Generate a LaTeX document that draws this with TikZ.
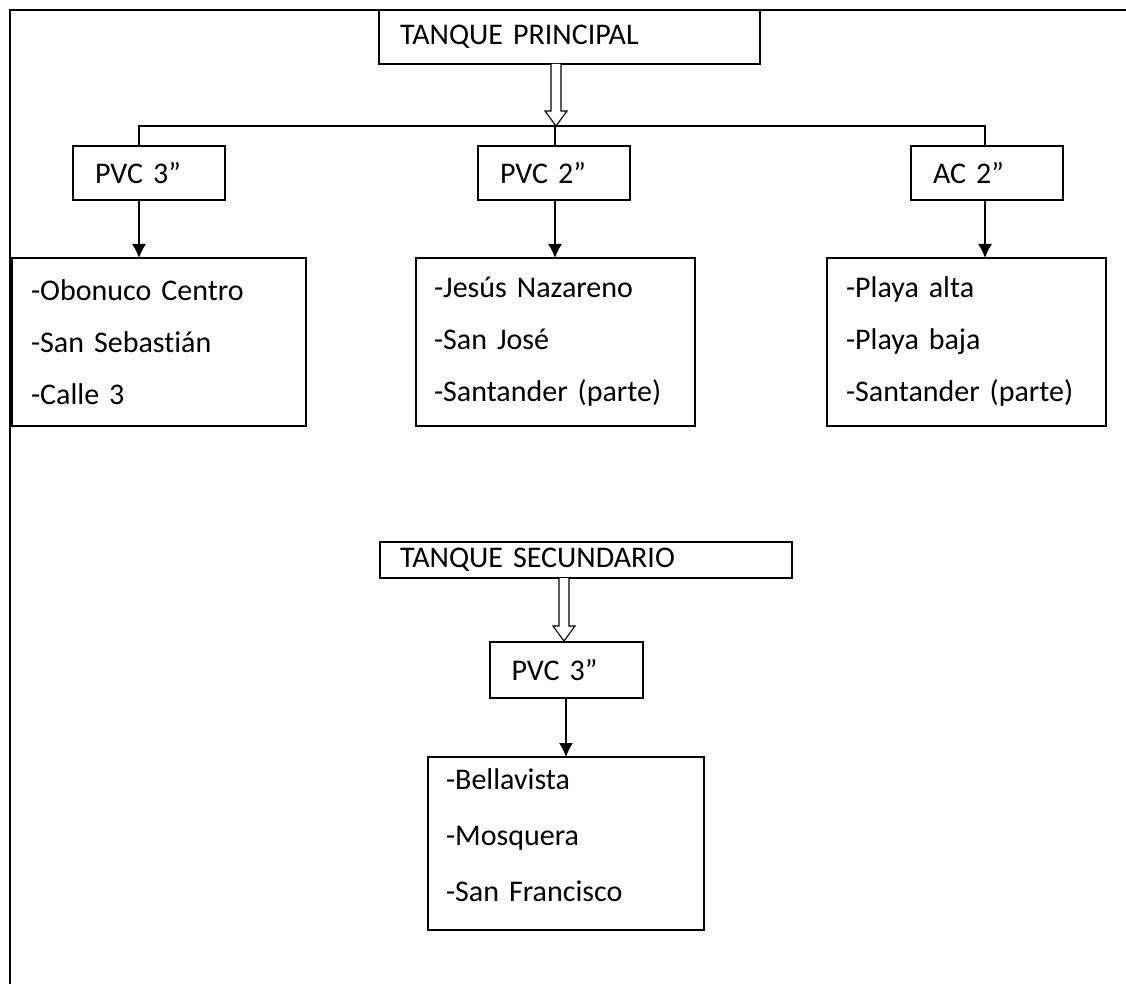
\documentclass[tikz,border=0pt]{standalone}
\usepackage{fontspec}
\setmainfont{Carlito}[Ligatures=NoCommon]
\usetikzlibrary{arrows.meta}
\begin{document}
\begin{tikzpicture}[x=1pt,y=-1pt,line width=1.3pt]
\tikzset{
  bx/.style={draw, rectangle, inner sep=0pt, outer sep=0pt, align=left,
    font=\fontsize{30}{36}\selectfont},
  bigbx/.style={bx, font=\fontsize{30}{52}\selectfont},
  lbl/.style={inner sep=0pt, outer sep=0pt, align=left, font=\fontsize{30}{56}\selectfont},
  arr/.style={-{Latex[length=14pt,width=14pt]}},
  hollow/.style={draw, fill=white, line width=1.1pt}
}
\useasboundingbox (0,0) rectangle (1126,984);
\draw (1126,10) -- (10,10) -- (10,984);

% main tank
\node[bx, minimum width=381, minimum height=54, text width=339] (tp) at (569.5,37) {TANQUE PRINCIPAL};
\node[bx, minimum width=152, minimum height=54, text width=108] (p1) at (149,173) {PVC 3”};
\node[bx, minimum width=152, minimum height=54, text width=108] (p2) at (554,173) {PVC 2”};
\node[bx, minimum width=152, minimum height=54, text width=108] (p3) at (987,173) {AC 2”};

\node[bigbx, minimum width=294, minimum height=168, text width=256] (b1) at (159,342) {-Obonuco Centro\\-San Sebastián\\-Calle 3};
\node[bigbx, minimum width=279, minimum height=168, text width=243] (b2) at (555.5,342) {-Jesús Nazareno\\-San José\\-Santander (parte)};
\node[bigbx, minimum width=279, minimum height=168, text width=241] (b3) at (966.5,342) {-Playa alta\\-Playa baja\\-Santander (parte)};

\coordinate (hl) at (139,126);
\coordinate (hr) at (985,126);
\draw (p1.north -| hl) -- (hl) -- (hr) -- (p3.north -| hr);
\draw (p2.north -| 555,0) -- (555,126);

% hollow arrow from tp to bar
\draw[hollow] (tp.south -| 551,0) -- (551,111) -- (545,111) -- (556,126) -- (567,111) -- (561,111) -- (tp.south -| 561,0);

\draw[arr] (p1.south -| 139,0) -- (b1.north -| 139,0);
\draw[arr] (p2.south -| 555,0) -- (b2.north -| 555,0);
\draw[arr] (p3.south -| 985,0) -- (b3.north -| 985,0);

% secondary tank
\node[bx, minimum width=412, minimum height=36, text width=372] (ts) at (586,560) {TANQUE SECUNDARIO};
\node[bx, minimum width=153, minimum height=56, text width=110] (p4) at (566.5,670) {PVC 3”};
\node[draw, rectangle, inner sep=0pt, outer sep=0pt, minimum width=276, minimum height=173] (b4) at (566,843.5) {};
\node[lbl, text width=240] (b4t) at (566,835) {-Bellavista\\-Mosquera\\-San Francisco};

\draw[hollow] (ts.south -| 559,0) -- (559,626) -- (553,626) -- (564,641) -- (575,626) -- (569,626) -- (ts.south -| 569,0);
\draw[arr] (p4.south -| 566,0) -- (b4.north -| 566,0);
\end{tikzpicture}
\end{document}
